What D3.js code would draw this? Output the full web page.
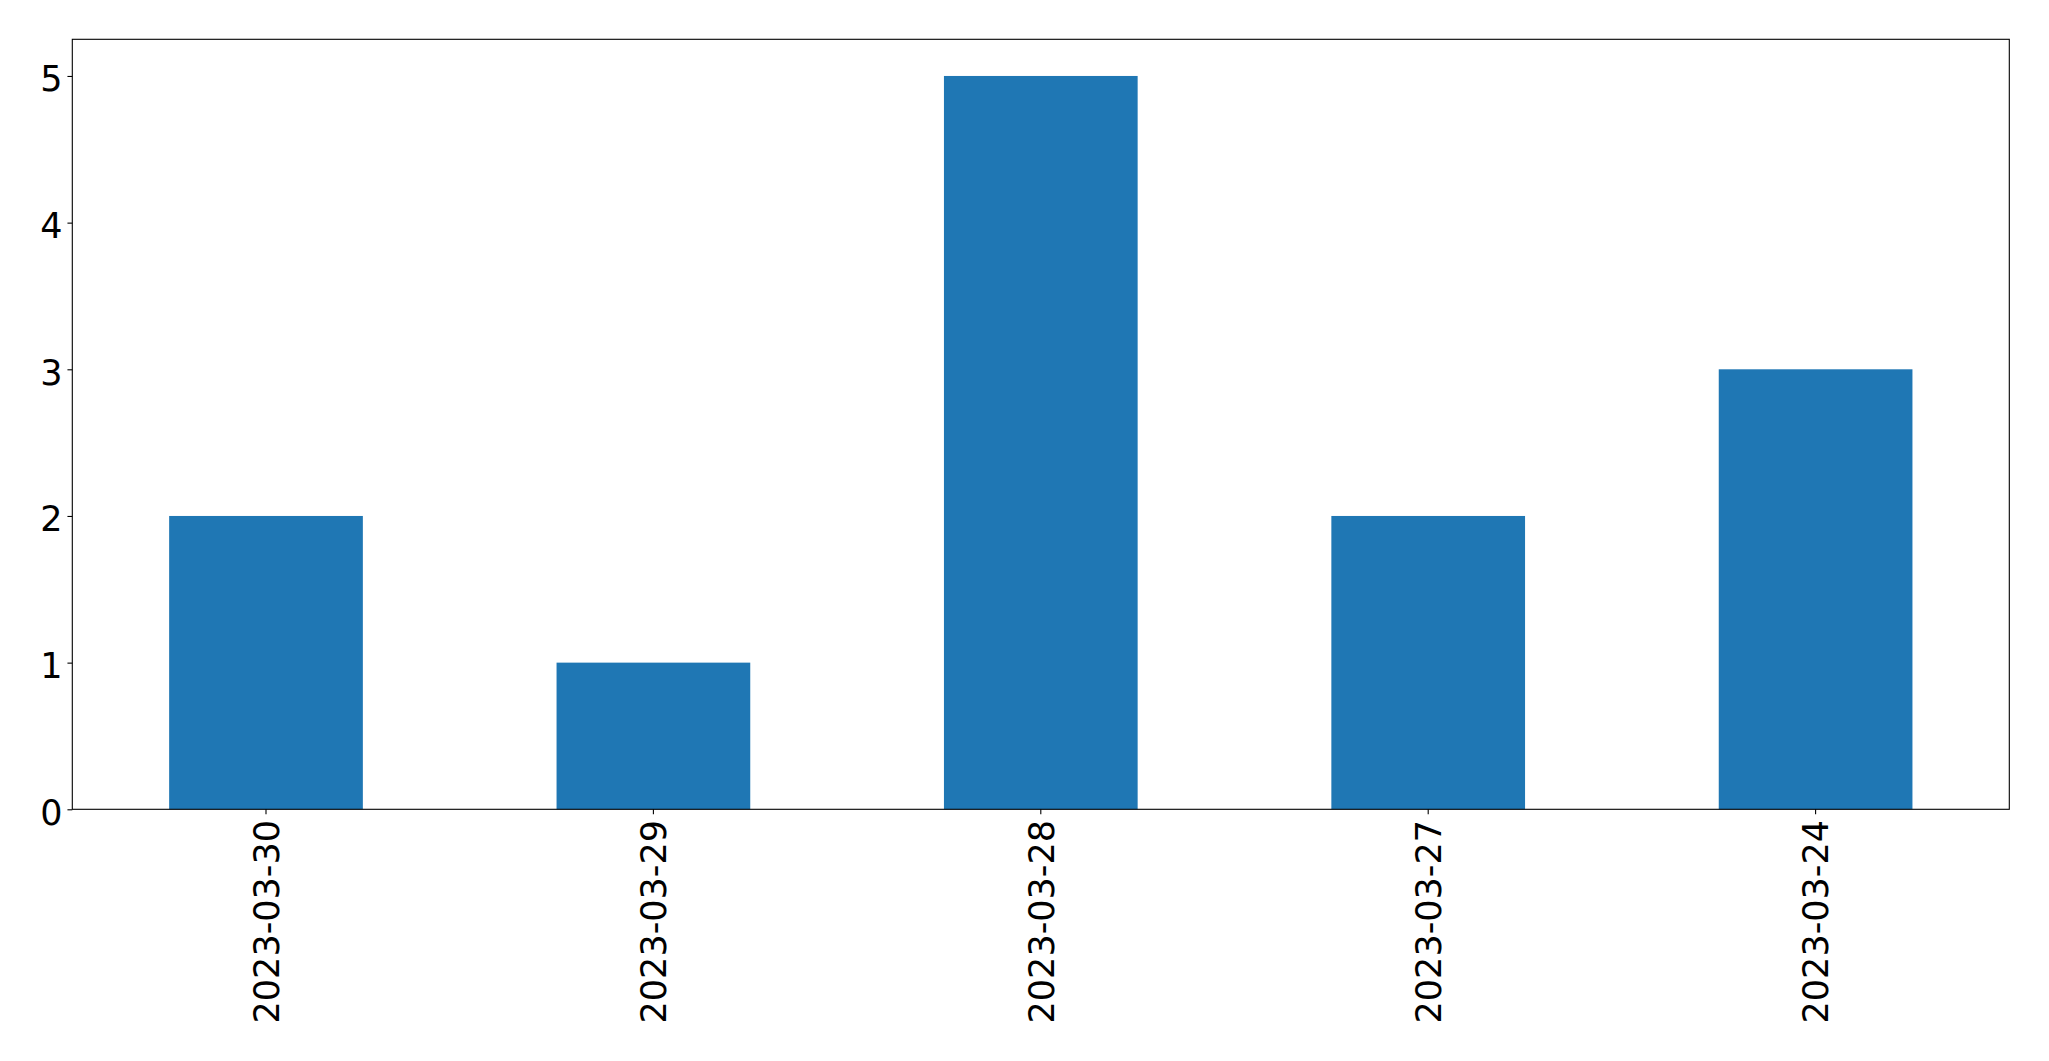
<!DOCTYPE html>
<html>
<head>
<meta charset="utf-8">
<script src="https://cdn.jsdelivr.net/npm/d3@7"></script>
<style>
  html, body { margin: 0; padding: 0; background: #fff; }
  svg { display: block; }
</style>
</head>
<body>
<svg id="chart" width="2049" height="1061"></svg>
<script>
const categories = ["2023-03-30", "2023-03-29", "2023-03-28", "2023-03-27", "2023-03-24"];
const values = [2, 1, 5, 2, 3];
const yTicks = [0, 1, 2, 3, 4, 5];

(function () {
const W = 2049, H = 1061;
const mLeft = 72.3, mRight = 2009.3, mTop = 39.3, mBottom = 809.3;
const fs = 35;
const tickLen = 4.86, tickPad = 4.86;

const svg = d3.select("#chart");
svg.append("rect").attr("width", W).attr("height", H).attr("fill", "#fff");

const x = d3.scaleBand().domain(categories).range([mLeft, mRight]).paddingInner(0.5).paddingOuter(0.25);
const y = d3.scaleLinear().domain([0, 5.25]).range([mBottom, mTop]);

svg.append("g").selectAll("rect").data(categories).join("rect")
  .attr("x", d => x(d))
  .attr("width", x.bandwidth())
  .attr("y", (d, i) => y(values[i]))
  .attr("height", (d, i) => y(0) - y(values[i]))
  .attr("fill", "#1f77b4");

// Y axis
const yAxis = svg.append("g").attr("transform", `translate(${mLeft},0)`)
  .call(d3.axisLeft(y).tickValues(yTicks).tickFormat(d3.format("d")).tickSize(tickLen).tickPadding(tickPad));
yAxis.select(".domain").remove();
yAxis.selectAll(".tick line").attr("stroke", "#000").attr("stroke-width", 1.1);
yAxis.selectAll(".tick text")
  .attr("font-family", "DejaVu Sans").attr("font-size", fs).attr("fill", "#000")
  .attr("dy", null).attr("y", 15);

// X axis
const xAxis = svg.append("g").attr("transform", `translate(0,${mBottom})`)
  .call(d3.axisBottom(x).tickSize(tickLen).tickPadding(tickPad));
xAxis.select(".domain").remove();
xAxis.selectAll(".tick line").attr("stroke", "#000").attr("stroke-width", 1.1);
xAxis.selectAll(".tick text")
  .attr("font-family", "DejaVu Sans").attr("font-size", fs).attr("fill", "#000")
  .attr("y", null).attr("dy", null)
  .attr("text-anchor", "end")
  .attr("transform", `translate(${0.3645 * fs},${tickLen + tickPad + 1}) rotate(-90)`);

// Frame
svg.append("rect")
  .attr("x", mLeft).attr("y", mTop)
  .attr("width", mRight - mLeft).attr("height", mBottom - mTop)
  .attr("fill", "none").attr("stroke", "#000").attr("stroke-width", 1.1);
})();
</script>
</body>
</html>
